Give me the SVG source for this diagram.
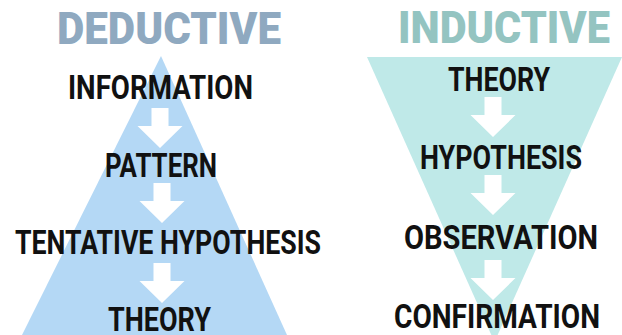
<svg xmlns="http://www.w3.org/2000/svg" xmlns:xlink="http://www.w3.org/1999/xlink" width="622" height="335" viewBox="0 0 622 335">
  <style>
    .title { font-family: Roboto, "Liberation Sans", sans-serif; font-weight: 900; font-size: 44px; }
    .ded-title { fill: #8fa9c0; }
    .ind-title { fill: #94c4c1; }
    .label { font-family: Roboto, "Liberation Sans", sans-serif; font-weight: 700; font-size: 33px; fill: #111111; }
    .arrow { fill: #ffffff; }
  </style>
  <defs>
    <path id="arrow" d="M -8.5 -40 L 8.5 -40 L 8.5 -22 L 22.5 -22 L 0 0 L -22.5 -22 L -8.5 -22 Z"/>
  </defs>
  <rect width="622" height="335" fill="#ffffff"/>

  <g id="deductive">
    <polygon id="deductive-triangle" points="161,56 287,335 22,335" fill="#b4d8f5"/>
    <text class="title ded-title" x="57" y="44" textLength="224" lengthAdjust="spacingAndGlyphs">DEDUCTIVE</text>
  </g>
  <g id="inductive">
    <polygon id="inductive-triangle" points="367,57 622,57 494.5,342" fill="#bfe9e8"/>
    <text class="title ind-title" x="398" y="43" textLength="212" lengthAdjust="spacingAndGlyphs">INDUCTIVE</text>
  </g>

  <g id="connectors">
    <use xlink:href="#arrow" href="#arrow" class="arrow" x="160" y="148"/>
    <use xlink:href="#arrow" href="#arrow" class="arrow" x="162" y="223"/>
    <use xlink:href="#arrow" href="#arrow" class="arrow" x="162" y="303"/>
    <use xlink:href="#arrow" href="#arrow" class="arrow" x="493" y="137"/>
    <use xlink:href="#arrow" href="#arrow" class="arrow" x="493" y="215"/>
    <use xlink:href="#arrow" href="#arrow" class="arrow" x="493" y="300"/>
  </g>

  <g id="ded-information"><text class="label" x="68" y="99" textLength="185" lengthAdjust="spacingAndGlyphs">INFORMATION</text></g>
  <g id="ded-pattern"><text class="label" x="105" y="177" textLength="112" lengthAdjust="spacingAndGlyphs">PATTERN</text></g>
  <g id="ded-tentative-hypothesis"><text class="label" x="15" y="254" textLength="306" lengthAdjust="spacingAndGlyphs">TENTATIVE HYPOTHESIS</text></g>
  <g id="ded-theory"><text class="label" x="108" y="331" textLength="103" lengthAdjust="spacingAndGlyphs">THEORY</text></g>

  <g id="ind-theory"><text class="label" x="448" y="91" textLength="102" lengthAdjust="spacingAndGlyphs">THEORY</text></g>
  <g id="ind-hypothesis"><text class="label" x="420" y="169" textLength="162" lengthAdjust="spacingAndGlyphs">HYPOTHESIS</text></g>
  <g id="ind-observation"><text class="label" x="404" y="249" textLength="194" lengthAdjust="spacingAndGlyphs">OBSERVATION</text></g>
  <g id="ind-confirmation"><text class="label" x="394" y="328" textLength="206" lengthAdjust="spacingAndGlyphs">CONFIRMATION</text></g>
</svg>
